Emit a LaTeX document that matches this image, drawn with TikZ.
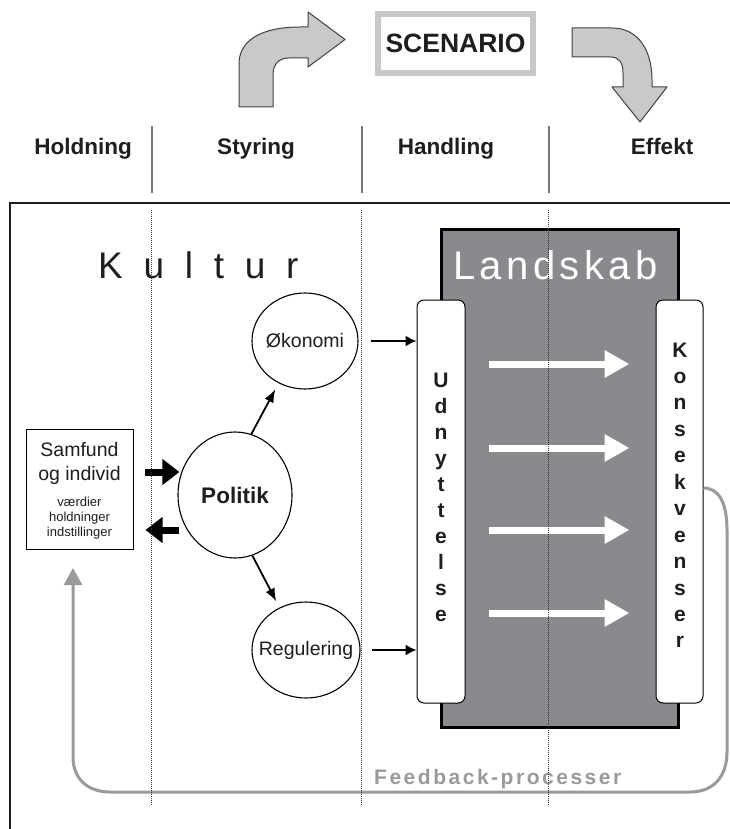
\documentclass[tikz,border=0pt]{standalone}
\usepackage{fontspec}
\setmainfont{Liberation Sans}
\usetikzlibrary{shapes.geometric,arrows.meta}
\definecolor{lsgray}{HTML}{898A8E}
\definecolor{fbgray}{HTML}{9A9A9A}
\definecolor{arrgray}{HTML}{C9C9CB}
\definecolor{scgray}{HTML}{C8C8C8}
\definecolor{txt}{HTML}{1E1E1E}
\definecolor{sepgray}{HTML}{777777}
\begin{document}
\begin{tikzpicture}[x=1pt,y=-1pt,
  hdr/.style={font=\fontsize{22.5}{27}\selectfont\bfseries, text=txt, anchor=base, inner sep=0pt},
  sepline/.style={draw=sepgray, line width=1.5pt},
  bentarrow/.style={fill=arrgray, draw=black!75, line width=1pt, line join=round},
  dotline/.style={draw=black!80, line width=0.6pt, dash pattern=on 0.8pt off 1.2pt},
  oval/.style={draw, ellipse, line width=1.1pt, inner sep=0pt},
  ovaltext/.style={font=\fontsize{19.5}{23}\selectfont, text=txt, inner sep=0pt},
  vbox/.style={draw, fill=white, rounded corners=7pt, line width=1pt, inner sep=0pt, minimum height=403pt},
  vlet/.style={font=\fontsize{21}{24}\selectfont\bfseries, text=txt, anchor=base, inner sep=0pt},
  warr/.style={white, line width=7pt, -{Triangle[length=25pt,width=26pt]}},
  fatarr/.style={line width=7pt, -{Triangle[length=17pt,width=25pt]}},
  thinarr/.style={line width=1.8pt, -{Latex[length=13pt,width=10pt]}},
  toarr/.style={line width=1.8pt, -{Latex[length=11pt,width=11pt]}},
  smalltxt/.style={font=\fontsize{13}{15}\selectfont, text=txt, anchor=base, inner sep=0pt},
  midtxt/.style={font=\fontsize{19.5}{23}\selectfont, text=txt, anchor=base, inner sep=0pt}
]
\useasboundingbox (0,0) rectangle (730,829);
\fill[white] (0,0) rectangle (730,829);

% header
\node[hdr] (hold) at (83,154.5) {Holdning};
\node[hdr] (styr) at (256,154.5) {Styring};
\node[hdr] (hand) at (446,154.5) {Handling};
\node[hdr] (eff) at (662,154.5) {Effekt};
\draw[sepline] (152,126) -- (152,193);
\draw[sepline] (362,126) -- (362,193);
\draw[sepline] (549,126) -- (549,193);

% scenario
\node[draw=scgray, line width=6pt, minimum width=155pt, minimum height=59pt, inner sep=0pt,
  font=\fontsize{26.5}{30}\selectfont\bfseries, text=txt] (scen) at (455.5,43.5) {SCENARIO};

% bent arrows
\draw[bentarrow] (239,107) -- (239,64) .. controls (239,40) and (262,27) .. (300,27) -- (308,27)
  -- (308,12) -- (345,39.5) -- (308,67) -- (308,58) -- (289,58)
  .. controls (279,58) and (273,64) .. (273,75) -- (273,107) -- cycle;
\draw[bentarrow] (572,28) -- (612,28) .. controls (638,28) and (652,50) .. (652,80) -- (652,87)
  -- (667,87) -- (640,122) -- (612,87) -- (623,87) -- (623,73)
  .. controls (623,62) and (619,57) .. (610,57) -- (572,57) -- cycle;

% outer frame
\draw[line width=2.5pt, draw=txt] (10,831) -- (10,203) -- (732,203);

% Kultur
\node[anchor=base west, inner sep=0pt, text=txt,
  font=\fontsize{37}{40}\selectfont\addfontfeature{LetterSpace=56}] (kultur) at (98,278) {Kultur};

% Landskab
\node[draw, fill=lsgray, line width=3pt, minimum width=237pt, minimum height=498pt, inner sep=0pt] (land) at (559.5,478) {};
\node[anchor=base west, inner sep=0pt, text=white,
  font=\fontsize{40}{44}\selectfont\addfontfeature{LetterSpace=11}] (landtxt) at (453,279) {Landskab};

% vertical boxes
\node[vbox, minimum width=48pt] (udn) at (441,501.5) {};
\node[vbox, minimum width=47pt] (kon) at (679.5,501.5) {};
\foreach \l [count=\i from 0] in {U,d,n,y,t,t,e,l,s,e}
  \node[vlet] (u\i) at (441,{387+26.1*\i}) {\l};
\foreach \l [count=\i from 0] in {K,o,n,s,e,k,v,e,n,s,e,r}
  \node[vlet] (k\i) at (680,{357+26.45*\i}) {\l};

% white arrows
\foreach \yy in {364,448,530,613}
  \draw[warr, shorten <=23pt, shorten >=26pt] (udn.east |- 0,\yy) -- (kon.west |- 0,\yy);

% ellipses
\node[oval, minimum width=106pt, minimum height=96pt] (oko) at (305,341) {};
\node[ovaltext] (okot) at (oko) {Økonomi};
\node[oval, minimum width=114pt, minimum height=126pt] (pol) at (235,495) {};
\node[ovaltext, font=\fontsize{22.5}{26}\selectfont\bfseries] (polt) at (pol) {Politik};
\node[oval, minimum width=108pt, minimum height=96pt] (reg) at (306,650) {};
\node[ovaltext] (regt) at (reg) {Regulering};

% samfund box
\node[draw, line width=1pt, minimum width=107pt, minimum height=120pt, inner sep=0pt] (samf) at (79.5,489) {};
\node[midtxt] (s1t) at (79.5,456.5) {Samfund};
\node[midtxt] (s2t) at (79.5,480.5) {og individ};
\node[smalltxt] (s3t) at (79.5,506) {værdier};
\node[smalltxt] (s4t) at (79.5,521) {holdninger};
\node[smalltxt] (s5t) at (79.5,536) {indstillinger};

% arrows
\coordinate (sa) at ([yshift=17pt]samf.east);
\coordinate (sb) at ([yshift=-41pt]samf.east);
\draw[fatarr, shorten <=11pt, shorten >=-2pt] (sa) -- (sa -| pol.west);
\draw[fatarr, shorten <=-2pt, shorten >=12pt] (sb -| pol.west) -- (sb);
\draw[thinarr, shorten >=7pt] (pol.75) -- (oko.238);
\draw[thinarr, shorten >=7pt] (pol.-74) -- (reg.122);
\draw[toarr, shorten <=12pt] (oko.east) -- (oko.east -| udn.west);
\draw[toarr, shorten <=11pt] (reg.east) -- (reg.east -| udn.west);

% feedback
\coordinate (fb0) at (kon.east |- 0,488);
\coordinate (fbend) at (73,568);
\draw[fbgray, line width=3pt, -{Triangle[length=17pt,width=18pt]}]
  (fb0) .. controls (719,488) and (727,503) .. (727,530) -- (727,752)
  .. controls (727,776) and (714,792) .. (690,792) -- (110,792)
  .. controls (88,792) and (73,779) .. (73,757) -- (fbend);
\node[anchor=base west, inner sep=0pt, text=fbgray,
  font=\fontsize{21}{24}\selectfont\bfseries\addfontfeature{LetterSpace=12}] (fbt) at (374,784) {Feedback-processer};

% dotted lines
\draw[dotline] (151,210) -- (151,805);
\draw[dotline] (361,210) -- (361,805);
\draw[dotline] (548,210) -- (548,805);
\end{tikzpicture}
\end{document}
